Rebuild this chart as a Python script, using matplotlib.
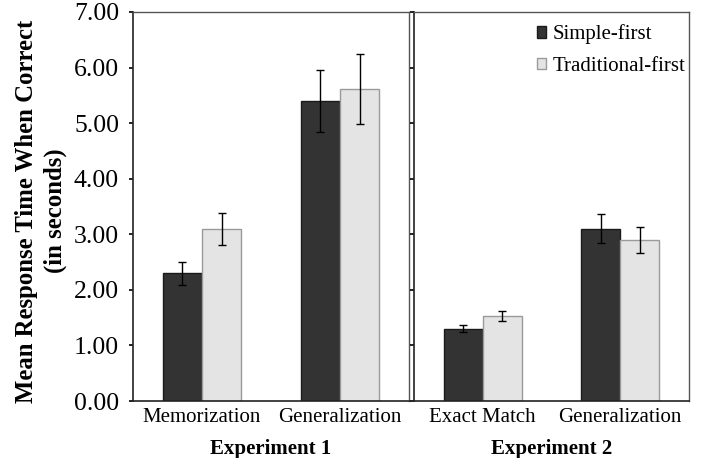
import matplotlib
matplotlib.use("Agg")
import matplotlib.pyplot as plt
import numpy as np

plt.rcParams['font.family'] = ['Liberation Serif', 'DejaVu Serif']

exp1_categories = ["Memorization", "Generalization"]
exp1_simple = [2.30, 5.40]
exp1_simple_err = [0.21, 0.56]
exp1_trad = [3.10, 5.61]
exp1_trad_err = [0.29, 0.63]

exp2_categories = ["Exact Match", "Generalization"]
exp2_simple = [1.30, 3.10]
exp2_simple_err = [0.06, 0.26]
exp2_trad = [1.53, 2.90]
exp2_trad_err = [0.085, 0.23]

series_names = ["Simple-first", "Traditional-first"]
yticks = [0, 1, 2, 3, 4, 5, 6, 7]

dark = "#333333"
light = "#e4e4e4"

fig = plt.figure(figsize=(7.01, 4.58), dpi=100)
W, H = 701, 458
ax1 = fig.add_axes([133 / W, (H - 401) / H, 276 / W, 389 / H])
ax2 = fig.add_axes([414 / W, (H - 401) / H, 275 / W, 389 / H])

bw = 0.285
for ax, cats, s, se, t, te in [
    (ax1, exp1_categories, exp1_simple, exp1_simple_err, exp1_trad, exp1_trad_err),
    (ax2, exp2_categories, exp2_simple, exp2_simple_err, exp2_trad, exp2_trad_err),
]:
    x = np.arange(len(cats))
    ax.bar(x - bw / 2, s, bw, color=dark, edgecolor="#1a1a1a", linewidth=1,
           label=series_names[0], zorder=2)
    ax.bar(x + bw / 2, t, bw, color=light, edgecolor="#9a9a9a", linewidth=1,
           label=series_names[1], zorder=2)
    ax.errorbar(x - bw / 2, s, yerr=se, fmt="none", ecolor="black",
                elinewidth=1, capsize=3, capthick=1, zorder=3)
    ax.errorbar(x + bw / 2, t, yerr=te, fmt="none", ecolor="black",
                elinewidth=1, capsize=3, capthick=1, zorder=3)
    ax.set_xlim(-0.5, len(cats) - 0.5)
    ax.set_ylim(0, 7)
    ax.set_yticks(yticks)
    ax.set_xticks(x)
    ax.set_xticklabels(cats, fontsize=15)
    ax.tick_params(axis="x", length=0, pad=5)
    for side in ["top", "right"]:
        ax.spines[side].set_color("#555555")
        ax.spines[side].set_linewidth(1)
    ax.spines["left"].set_color("#222222")
    ax.spines["bottom"].set_color("#222222")
    ax.spines["left"].set_linewidth(1.2)
    ax.spines["bottom"].set_linewidth(1.2)

ax1.set_yticklabels([f"{v:.2f}" for v in yticks], fontsize=18.5)
ax1.tick_params(axis="y", direction="out", length=3, width=1.2, pad=7)
ax2.set_yticklabels([])
ax2.tick_params(axis="y", direction="out", length=3, width=1.2)

ax1.set_xlabel("Experiment 1", fontsize=15, fontweight="bold", labelpad=9)
ax2.set_xlabel("Experiment 2", fontsize=15, fontweight="bold", labelpad=9)

fig.text(41 / W, 1 - 211 / H, "Mean Response Time When Correct\n(in seconds)",
         rotation=90, ha="center", va="center", fontsize=17.8,
         fontweight="bold", linespacing=1.3)

leg = ax2.legend(loc="upper right", fontsize=15, frameon=False,
                 handlelength=0.45, handleheight=0.45, handletextpad=0.3,
                 labelspacing=0.6, borderaxespad=0.2,
                 bbox_to_anchor=(1 + 9 / 275, 1.0))

fig.savefig("out.png", dpi=100)
